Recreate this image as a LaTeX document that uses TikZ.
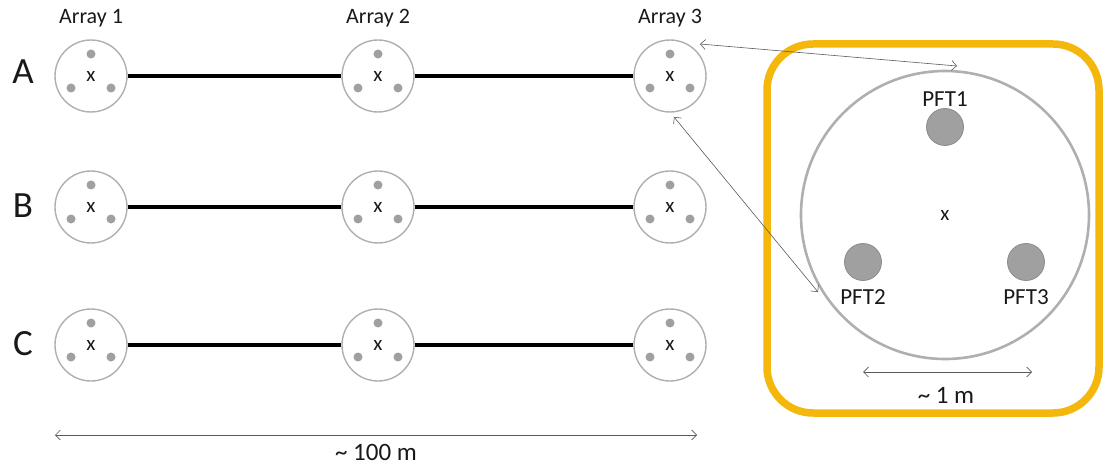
\documentclass[tikz,border=0pt]{standalone}
\usepackage{fontspec}
\setmainfont{Carlito}
\usetikzlibrary{arrows.meta}

\definecolor{ringgray}{RGB}{175,175,175}
\definecolor{dotgray}{RGB}{160,160,160}
\definecolor{dotedge}{RGB}{140,140,140}
\definecolor{plotgold}{RGB}{244,183,12}
\definecolor{leadgray}{RGB}{90,90,90}
\definecolor{inkgray}{RGB}{25,25,25}

\begin{document}
\begin{tikzpicture}[x=1pt,y=-1pt, every node/.style={text=inkgray},
  station/.style={circle, draw=ringgray, line width=1.4pt, fill=white,
    minimum size=72pt, inner sep=0pt, font=\fontsize{21}{24}\selectfont},
  probe/.style={circle, fill=dotgray, minimum size=9pt, inner sep=0pt},
  bigprobe/.style={circle, fill=dotgray, draw=dotedge, line width=0.8pt,
    minimum size=37pt, inner sep=0pt},
  link/.style={line width=4pt, black},
  rowname/.style={font=\fontsize{37}{40}\selectfont},
  arrname/.style={font=\fontsize{22}{25}\selectfont},
  pftname/.style={font=\fontsize{23}{26}\selectfont},
  dimline/.style={leadgray, line width=0.7pt,
    {Straight Barb[length=5pt,width=10pt]}-{Straight Barb[length=5pt,width=10pt]}},
  dimtext/.style={font=\fontsize{25}{28}\selectfont}
]
\useasboundingbox (0,0) rectangle (1109,468);

% row letters
\node[rowname] (rA) at (23,72) {A};
\node[rowname] (rB) at (23,206) {B};
\node[rowname] (rC) at (23,344) {C};

% column headings
\node[arrname] (h1) at (91,18) {Array 1};
\node[arrname] (h2) at (378,18) {Array 2};
\node[arrname] (h3) at (670,18) {Array 3};

% the nine probe stations, each with three probes
\foreach \r/\y in {A/76,B/207,C/345}{
  \foreach \c/\x in {1/91,2/378,3/670}{
    \node[station] (\r\c) at (\x,\y) {x};
    \node[probe] (\r\c p1) at (\x,\y-22) {};
    \node[probe] (\r\c p2) at (\x-20,\y+12) {};
    \node[probe] (\r\c p3) at (\x+20,\y+12) {};
  }
  \draw[link] (\r1) -- (\r2);
  \draw[link] (\r2) -- (\r3);
}

% enlarged station
\draw[plotgold, line width=7.5pt, rounded corners=46pt] (767,44) rectangle (1099,413);
\node[circle, draw=ringgray, line width=2.6pt, minimum size=288pt, inner sep=0pt,
  font=\fontsize{21}{24}\selectfont] (big) at (945,215) {x};
\node[bigprobe] (P1) at (945,127) {};
\node[bigprobe] (P2) at (863,262) {};
\node[bigprobe] (P3) at (1026,262) {};
\node[pftname] (L1) at (945,99) {PFT1};
\node[pftname] (L2) at (863,297) {PFT2};
\node[pftname] (L3) at (1026,297) {PFT3};

% leaders from Array 3 to the enlarged view
\coordinate (a3top) at (700,44);
\coordinate (a3bot) at (674,117);
\coordinate (bigtop) at (957,66);
\coordinate (bigleft) at (818,292);
\draw[dimline, line width=0.6pt] (a3top) -- (bigtop);
\draw[dimline, line width=0.6pt] (a3bot) -- (bigleft);

% scale bars
\coordinate (m1l) at (863,372);
\coordinate (m1r) at (1032,372);
\draw[dimline] (m1l) -- (m1r);
\node[dimtext] (m1) at (946,395) {\textasciitilde\ 1 m};

\coordinate (m100l) at (55,435);
\coordinate (m100r) at (697,435);
\draw[dimline] (m100l) -- (m100r);
\node[dimtext, anchor=base, inner sep=0pt] (m100) at (376,460) {\textasciitilde\ 100 m};
\end{tikzpicture}
\end{document}
